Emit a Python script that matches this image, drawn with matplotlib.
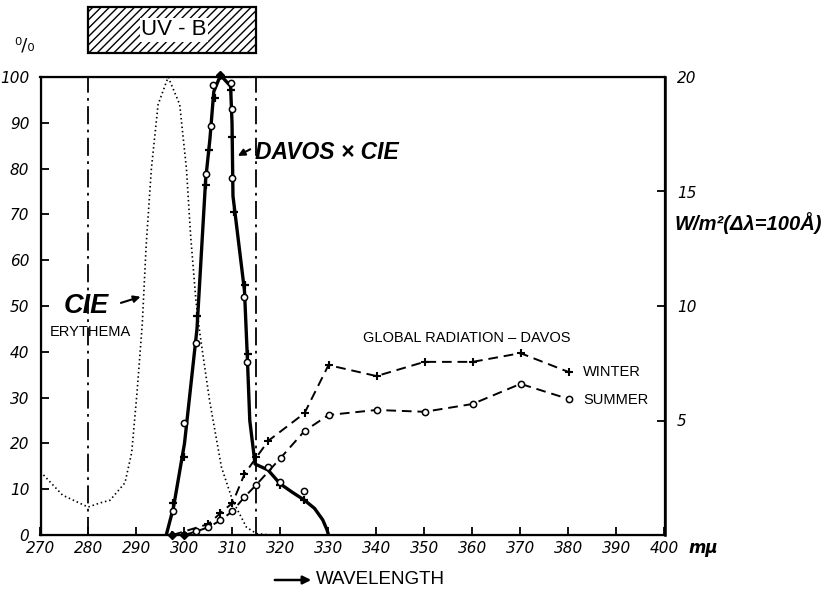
import matplotlib
matplotlib.use('Agg')
from matplotlib import pyplot as plt
from matplotlib.patches import Rectangle, FancyArrowPatch

# achsen
wl_ticks = [270, 280, 290, 300, 310, 320, 330, 340, 350, 360, 370, 380, 390, 400]
pct_ticks = [0, 10, 20, 30, 40, 50, 60, 70, 80, 90, 100]
wm_ticks = [5, 10, 15, 20]

# CIE Erythem-Kurve (punktiert), in %
cie_wl = [270, 274.6, 279.9, 282.4, 284.5, 287.6, 289.0, 290.1, 291.2, 292.0, 293.1, 294.5, 296.6,
          299.0, 300.4, 301.3, 302.4, 303.2, 305.2, 307.7, 310.0, 312.9, 315.0, 318.0]
cie_pct = [13.8, 8.7, 6.1, 7.0, 7.6, 11.4, 18.0, 31.0, 46.0, 63.0, 80.0, 94.0, 100,
           94.0, 80.0, 65.0, 51.0, 44.0, 29.5, 14.8, 7.6, 1.7, 0.3, 0.0]

# DAVOS x CIE (dicke Linie)
dc_line_wl = [296.2, 297.7, 300.0, 302.6, 304.4, 305.3, 306.1, 307.5, 309.6, 309.9, 310.1,
              312.5, 313.1, 313.6, 314.7, 317.4, 319.9, 322.5, 325.0, 327.1, 328.8, 329.7, 330.0]
dc_line_pct = [0, 6, 20, 45, 77.5, 86.5, 96.8, 100.4, 98, 90, 74,
               53.3, 38.6, 25, 15.5, 14.2, 11.2, 9.3, 7.6, 5.8, 3.3, 1.1, 0]
dc_winter_wl = [297.7, 300.0, 302.7, 304.4, 305.2, 306.3, 309.6, 309.9, 310.3, 312.6, 313.2, 319.9, 325.0]
dc_winter_pct = [7.0, 17.0, 47.8, 76.4, 84.0, 95.4, 97.2, 87.0, 70.5, 54.6, 39.5, 10.9, 7.6]
dc_summer_wl = [297.7, 300.0, 302.5, 304.4, 305.5, 306.0, 309.6, 309.9, 310.0, 312.4, 313.0, 317.4, 319.9, 325.0]
dc_summer_pct = [5.3, 24.5, 42.0, 78.8, 89.3, 98.3, 98.7, 93.0, 78.0, 52.0, 37.8, 14.9, 11.6, 9.6]
dc_peak_wl = [307.5]
dc_peak_pct = [100.4]

# Globalstrahlung Davos, W/m2 (delta lambda = 100 A)
gw_wl = [297.5, 305, 307.5, 310, 312.5, 315, 317.5, 325, 330, 340, 350, 360, 370, 380]
gw_wm = [0.0, 0.48, 0.96, 1.40, 2.66, 3.40, 4.12, 5.32, 7.42, 6.94, 7.56, 7.56, 7.94, 7.12]
gs_wl = [300, 302.5, 305, 307.5, 310, 312.5, 315, 320, 325, 330, 340, 350, 360, 370, 380]
gs_wm = [0.0, 0.16, 0.34, 0.64, 1.04, 1.66, 2.20, 3.36, 4.54, 5.24, 5.46, 5.38, 5.72, 6.60, 5.94]

plt.rcParams['font.family'] = ['Liberation Sans', 'DejaVu Sans']
tickfont = dict(family='DejaVu Sans', style='italic', size=11)
bi = dict(style='italic', weight='bold')

fig = plt.figure(figsize=(8.4, 5.93), dpi=100)
ax = fig.add_axes([40.5 / 840, 1 - 535 / 593, 624 / 840, 458 / 593])
ax2 = ax.twinx()

ax.set_xlim(270, 400)
ax.set_ylim(0, 100)
ax2.set_ylim(0, 20)

# Grenzen UV-B
for w in (280, 315):
    ax.axvline(w, color='black', lw=1.3, dashes=(10, 3, 1.5, 3))

ax.plot(cie_wl, cie_pct, color='black', lw=1.2, ls=(0, (0.9, 1.7)))

ax.plot(dc_line_wl, dc_line_pct, color='black', lw=2.4, solid_capstyle='round')
ax.plot(dc_winter_wl, dc_winter_pct, ls='none', marker='+', ms=6, mew=1.6, color='black')
ax.plot(dc_summer_wl, dc_summer_pct, ls='none', marker='o', ms=4.5, mew=1.1,
        mfc='white', mec='black')
ax.plot(dc_peak_wl, dc_peak_pct, ls='none', marker='D', ms=4.5, color='black', clip_on=False)

ax2.plot(gw_wl, gw_wm, color='black', lw=1.4, dashes=(5, 3), marker='+', ms=6, mew=1.5)
ax2.plot(gs_wl, gs_wm, color='black', lw=1.4, dashes=(5, 3), marker='o', ms=4.5, mew=1.1,
         mfc='white', mec='black')
ax2.plot([gw_wl[0], gs_wl[0]], [gw_wm[0], gs_wm[0]], ls='none', marker='D', ms=4.5,
         color='black', clip_on=False)

for s in ax.spines.values():
    s.set_linewidth(1.6)
ax2.spines['right'].set_linewidth(1.8)
ax.set_xticks(wl_ticks)
ax.set_yticks(pct_ticks)
ax2.set_yticks(wm_ticks)
ax.tick_params(direction='in', length=6, width=1.3, pad=4)
ax.tick_params(axis='y', pad=8)
ax2.tick_params(direction='in', length=6, width=1.3, pad=9)
ax.set_xticklabels([str(t) for t in wl_ticks], fontdict=tickfont)
ax.set_yticklabels([str(t) for t in pct_ticks], fontdict=tickfont)
ax2.set_yticklabels([str(t) for t in wm_ticks], fontdict=tickfont)

fig.text(688 / 840, 1 - 548 / 593, 'mμ', fontsize=12, style='italic', weight='bold',
         family='DejaVu Sans', va='center', ha='left')
fig.text(25 / 840, 1 - 45 / 593, '⁰/₀', fontsize=13, family='DejaVu Sans', ha='center', va='center')
fig.text(675 / 840, 1 - 223 / 593, 'W/m²(Δλ=100Å)', fontsize=14.5, ha='left', va='center', **bi)

# UV-B Kasten
box = Rectangle((280, 105.2), 35, 10.1, transform=ax.transData, clip_on=False,
                facecolor='white', edgecolor='black', lw=1.6, hatch='////')
ax.add_patch(box)
ax.text(297.8, 110.3, 'UV - B', fontsize=16, ha='center', va='center', clip_on=False,
        bbox=dict(facecolor='white', edgecolor='none', pad=1))

# Beschriftungen
ax.text(279.6, 50, 'CIE', fontsize=19.5, ha='center', va='center', **bi)
ax.annotate('', xy=(291.4, 52.2), xytext=(286.2, 50.5),
            arrowprops=dict(arrowstyle='-|>', color='black', lw=1.5, mutation_scale=10))
ax.text(280.3, 44.3, 'ERYTHEMA', fontsize=10.5, ha='center', va='center')

ax.text(314.6, 83.5, 'DAVOS × CIE', fontsize=16.5, ha='left', va='center', **bi)
ax.annotate('', xy=(310.6, 82.5), xytext=(314.2, 84.5),
            arrowprops=dict(arrowstyle='-|>', color='black', lw=1.5, mutation_scale=10))

ax.text(358.9, 43.1, 'GLOBAL RADIATION – DAVOS', fontsize=10.5, ha='center', va='center')
ax.text(383.0, 35.6, 'WINTER', fontsize=10.5, ha='left', va='center')
ax.text(383.0, 29.5, 'SUMMER', fontsize=10.5, ha='left', va='center')

fig.text(316 / 840, 1 - 579 / 593, 'WAVELENGTH', fontsize=13.5, ha='left', va='center')
fig.patches.append(FancyArrowPatch(
    (272 / 840, 1 - 580 / 593), (314 / 840, 1 - 580 / 593), transform=fig.transFigure,
    arrowstyle='-|>', mutation_scale=12, lw=1.8, color='black'))

fig.savefig('out.png', dpi=100)
